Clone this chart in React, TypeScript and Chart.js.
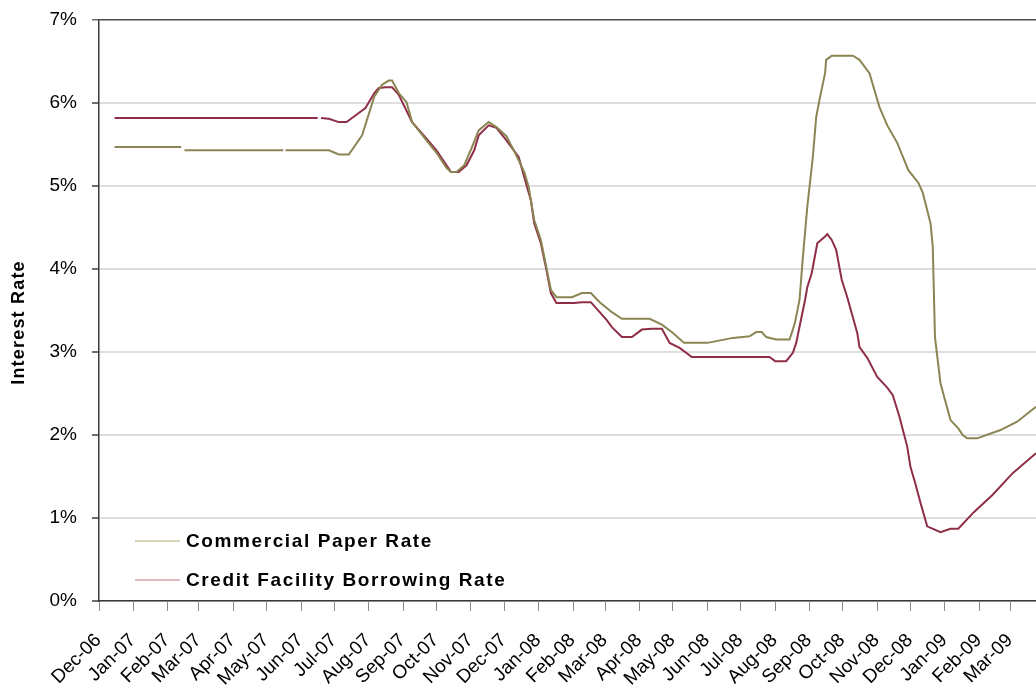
import { useEffect, useRef } from "react";
import { Chart, registerables } from "chart.js";

Chart.register(...registerables);

// Month tick labels along the time axis (first day of each month)
const monthLabels = [
  "Dec-06", "Jan-07", "Feb-07", "Mar-07", "Apr-07", "May-07", "Jun-07",
  "Jul-07", "Aug-07", "Sep-07", "Oct-07", "Nov-07", "Dec-07", "Jan-08",
  "Feb-08", "Mar-08", "Apr-08", "May-08", "Jun-08", "Jul-08", "Aug-08",
  "Sep-08", "Oct-08", "Nov-08", "Dec-08", "Jan-09", "Feb-09", "Mar-09",
];
const axisStart = "2006-12-01";
const axisEnd = "2009-03-24";

const yTicks = [0, 1, 2, 3, 4, 5, 6, 7];

const seriesNames = ["Commercial Paper Rate", "Credit Facility Borrowing Rate"];

// Commercial paper rate (%); null marks a missing observation
const cpDates = [
  "2006-12-15", "2007-02-13", "2007-02-15", "2007-02-16", "2007-05-16", "2007-05-17",
  "2007-05-18", "2007-06-26", "2007-07-05", "2007-07-14", "2007-07-26", "2007-08-06",
  "2007-08-13", "2007-08-19", "2007-08-22", "2007-08-28", "2007-09-04", "2007-09-09",
  "2007-09-22", "2007-10-01", "2007-10-10", "2007-10-14", "2007-10-19", "2007-10-26",
  "2007-11-02", "2007-11-08", "2007-11-17", "2007-11-24", "2007-12-03", "2007-12-10",
  "2007-12-19", "2007-12-23", "2007-12-28", "2008-01-03", "2008-01-08", "2008-01-12",
  "2008-01-17", "2008-01-31", "2008-02-09", "2008-02-17", "2008-02-25", "2008-03-07",
  "2008-03-16", "2008-04-10", "2008-04-21", "2008-05-01", "2008-05-11", "2008-06-01",
  "2008-06-24", "2008-07-09", "2008-07-15", "2008-07-20", "2008-07-24", "2008-08-02",
  "2008-08-14", "2008-08-17", "2008-08-19", "2008-08-23", "2008-08-26", "2008-08-30",
  "2008-09-04", "2008-09-07", "2008-09-10", "2008-09-15", "2008-09-16", "2008-09-21",
  "2008-10-10", "2008-10-16", "2008-10-25", "2008-11-03", "2008-11-10", "2008-11-19",
  "2008-11-29", "2008-12-08", "2008-12-12", "2008-12-19", "2008-12-21", "2008-12-23",
  "2008-12-28", "2009-01-06", "2009-01-13", "2009-01-17", "2009-01-21", "2009-01-30",
  "2009-02-20", "2009-03-07", "2009-03-24",
];
const cpRates = [
  5.47, 5.47, null, 5.43, 5.43, null,
  5.43, 5.43, 5.38, 5.38, 5.61, 6.08,
  6.22, 6.27, 6.27, 6.12, 6.01, 5.77,
  5.55, 5.40, 5.22, 5.17, 5.17, 5.25,
  5.47, 5.67, 5.77, 5.71, 5.60, 5.42,
  5.17, 4.99, 4.59, 4.35, 4.02, 3.75,
  3.66, 3.66, 3.71, 3.71, 3.60, 3.48,
  3.40, 3.40, 3.33, 3.23, 3.11, 3.11,
  3.17, 3.19, 3.24, 3.24, 3.18, 3.15,
  3.15, 3.27, 3.36, 3.63, 4.14, 4.75,
  5.35, 5.83, 6.04, 6.36, 6.52, 6.57,
  6.57, 6.52, 6.36, 5.95, 5.73, 5.52,
  5.19, 5.04, 4.92, 4.55, 4.27, 3.18,
  2.62, 2.18, 2.08, 2.00, 1.96, 1.96,
  2.06, 2.16, 2.34,
];

// Credit facility borrowing rate (%); null marks a missing observation
const cfDates = [
  "2006-12-15", "2007-06-16", "2007-06-17", "2007-06-19", "2007-06-26", "2007-07-05",
  "2007-07-12", "2007-07-23", "2007-07-29", "2007-08-06", "2007-08-10", "2007-08-16",
  "2007-08-22", "2007-08-28", "2007-09-09", "2007-09-22", "2007-10-01", "2007-10-10",
  "2007-10-14", "2007-10-21", "2007-10-28", "2007-11-04", "2007-11-08", "2007-11-17",
  "2007-11-24", "2007-12-03", "2007-12-14", "2007-12-19", "2007-12-25", "2007-12-28",
  "2008-01-03", "2008-01-08", "2008-01-12", "2008-01-17", "2008-02-02", "2008-02-09",
  "2008-02-17", "2008-02-25", "2008-03-02", "2008-03-07", "2008-03-16", "2008-03-25",
  "2008-04-03", "2008-04-12", "2008-04-21", "2008-04-28", "2008-05-07", "2008-05-18",
  "2008-07-27", "2008-08-01", "2008-08-11", "2008-08-17", "2008-08-20", "2008-08-28",
  "2008-08-30", "2008-09-03", "2008-09-08", "2008-09-15", "2008-09-17", "2008-09-21",
  "2008-09-25", "2008-09-30", "2008-10-05", "2008-10-14", "2008-10-16", "2008-10-23",
  "2008-11-01", "2008-11-10", "2008-11-15", "2008-11-21", "2008-11-28", "2008-12-01",
  "2008-12-05", "2008-12-10", "2008-12-16", "2008-12-28", "2009-01-06", "2009-01-13",
  "2009-01-27", "2009-02-13", "2009-03-03", "2009-03-24",
];
const cfRates = [
  5.82, 5.82, null, 5.82, 5.81, 5.77,
  5.77, 5.88, 5.94, 6.12, 6.18, 6.19,
  6.19, 6.10, 5.77, 5.57, 5.43, 5.25,
  5.17, 5.17, 5.25, 5.43, 5.61, 5.73,
  5.70, 5.55, 5.35, 5.11, 4.83, 4.55,
  4.31, 3.99, 3.71, 3.59, 3.59, 3.60,
  3.60, 3.48, 3.39, 3.30, 3.18, 3.18,
  3.27, 3.28, 3.28, 3.11, 3.05, 2.94,
  2.94, 2.89, 2.89, 2.99, 3.11, 3.63,
  3.78, 3.95, 4.31, 4.39, 4.42, 4.35,
  4.23, 3.87, 3.66, 3.23, 3.06, 2.93,
  2.70, 2.57, 2.48, 2.22, 1.86, 1.61,
  1.43, 1.18, 0.90, 0.83, 0.87, 0.87,
  1.07, 1.28, 1.54, 1.78,
];

const cpColor = "#8a8552";
const cfColor = "#8f2f47";
const cpSwatch = "#cbc6a6";
const cfSwatch = "#dba3ad";
const FONT = '"Liberation Sans", Arial, Helvetica, sans-serif';

const DAY_MS = 86400000;
const originMs = Date.parse(axisStart + "T00:00:00Z");
const dayIndex = (iso: string) => (Date.parse(iso + "T00:00:00Z") - originMs) / DAY_MS;
const monthDays = monthLabels.map((_, i) => (Date.UTC(2006, 11 + i, 1) - originMs) / DAY_MS);

const toPoints = (dates: string[], rates: (number | null)[]) =>
  dates.map((d, i) => ({ x: dayIndex(d), y: rates[i] }));

// Rotated month labels, in-plot legend and the y-axis title
const overlay = {
  id: "overlay",
  afterDraw(chart: any) {
    const { ctx, chartArea, scales } = chart;

    // month labels, text ending just past each tick, rising at 45 degrees
    ctx.save();
    ctx.fillStyle = "#000";
    ctx.font = `19px ${FONT}`;
    ctx.textAlign = "right";
    ctx.textBaseline = "alphabetic";
    monthLabels.forEach((label, i) => {
      const x = scales.x.getPixelForValue(monthDays[i]);
      ctx.save();
      ctx.translate(x + 3, chartArea.bottom + 40);
      ctx.rotate(-Math.PI / 4);
      ctx.fillText(label, 0, 0);
      ctx.restore();
    });
    ctx.restore();

    // y-axis title
    ctx.save();
    ctx.fillStyle = "#000";
    ctx.font = `bold 18px ${FONT}`;
    (ctx as any).letterSpacing = "1.2px";
    ctx.textAlign = "center";
    ctx.textBaseline = "middle";
    ctx.translate(19, (chartArea.top + chartArea.bottom) / 2 + 12);
    ctx.rotate(-Math.PI / 2);
    ctx.fillText("Interest Rate", 0, 0);
    ctx.restore();

    // legend
    const rows = [
      { label: seriesNames[0], color: cpSwatch, y: chartArea.bottom - 60 },
      { label: seriesNames[1], color: cfSwatch, y: chartArea.bottom - 21 },
    ];
    ctx.save();
    ctx.font = `bold 19px ${FONT}`;
    (ctx as any).letterSpacing = "1.6px";
    ctx.textAlign = "left";
    ctx.textBaseline = "middle";
    for (const r of rows) {
      ctx.strokeStyle = r.color;
      ctx.lineWidth = 1.5;
      ctx.beginPath();
      ctx.moveTo(chartArea.left + 36, r.y);
      ctx.lineTo(chartArea.left + 81, r.y);
      ctx.stroke();
      ctx.fillStyle = "#000";
      ctx.fillText(r.label, chartArea.left + 87, r.y + 1);
    }
    ctx.restore();
  },
};

export default function App() {
  const canvasRef = useRef<HTMLCanvasElement | null>(null);

  useEffect(() => {
    if (!canvasRef.current) return;
    const chart = new Chart(canvasRef.current, {
      type: "line",
      data: {
        datasets: [
          {
            label: seriesNames[0],
            data: toPoints(cpDates, cpRates),
            borderColor: cpColor,
            borderWidth: 2,
            pointRadius: 0,
            tension: 0,
            spanGaps: false,
          },
          {
            label: seriesNames[1],
            data: toPoints(cfDates, cfRates),
            borderColor: cfColor,
            borderWidth: 2,
            pointRadius: 0,
            tension: 0,
            spanGaps: false,
          },
        ],
      },
      options: {
        animation: false,
        responsive: true,
        maintainAspectRatio: false,
        layout: { padding: { top: 20, right: 0, left: 0, bottom: 0 } },
        plugins: { legend: { display: false }, tooltip: { enabled: false } },
        scales: {
          x: {
            type: "linear",
            min: 0,
            max: dayIndex(axisEnd),
            afterBuildTicks: (scale: any) => {
              scale.ticks = monthDays.map((v) => ({ value: v }));
            },
            afterFit: (scale: any) => {
              scale.height = 87;
              scale.paddingLeft = 0;
              scale.paddingRight = 0;
            },
            ticks: {
              display: false,
              autoSkip: false,
            },
            grid: {
              drawOnChartArea: false,
              drawTicks: true,
              tickLength: 10,
              tickColor: "#8c8c8c",
            },
            border: { color: "#3a3a3a", width: 1.5 },
          },
          y: {
            min: 0,
            max: 7,
            afterBuildTicks: (scale: any) => {
              scale.ticks = yTicks.map((v) => ({ value: v }));
            },
            afterFit: (scale: any) => {
              scale.width = 99;
              scale.paddingTop = 0;
              scale.paddingBottom = 0;
            },
            ticks: {
              padding: 15,
              color: "#000",
              font: { family: FONT, size: 19 },
              callback: (v: any) => `${v}%`,
            },
            grid: {
              drawTicks: true,
              tickLength: 7,
              tickColor: "#6e6e6e",
              color: (c: any) => (c.tick && c.tick.value === 7 ? "#4a4a4a" : "#dedede"),
              lineWidth: (c: any) => (c.tick && c.tick.value === 7 ? 1.5 : 2),
            },
            border: { color: "#3a3a3a", width: 1.5 },
          },
        },
      },
      plugins: [overlay],
    });
    return () => chart.destroy();
  }, []);

  return (
    <div
      style={{
        position: "fixed",
        left: 0,
        top: 0,
        width: 1036,
        height: 688,
        background: "#fff",
      }}
    >
      <canvas ref={canvasRef} />
    </div>
  );
}
